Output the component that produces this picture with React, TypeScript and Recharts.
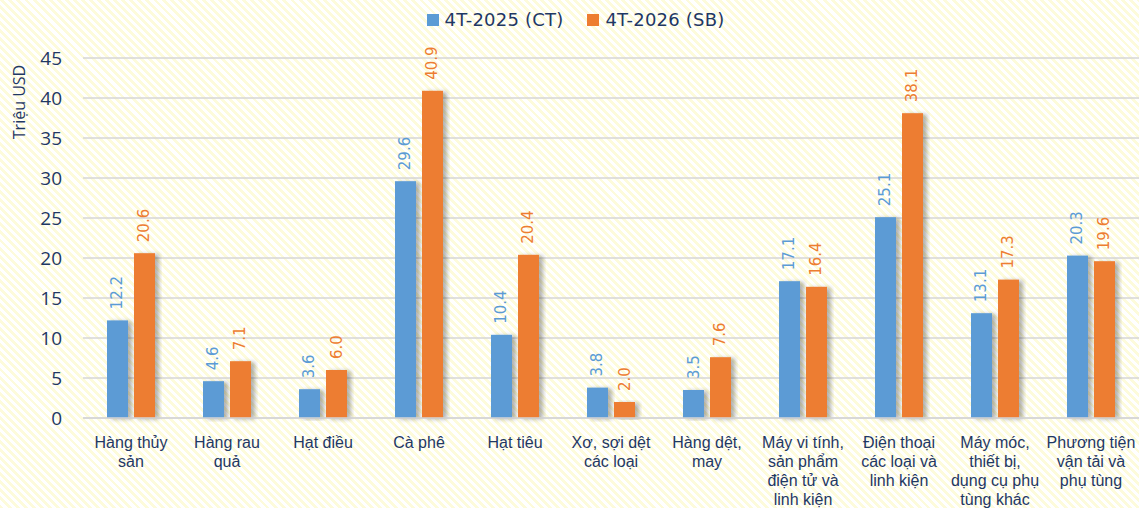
import React from 'react';
import { BarChart, Bar, XAxis, YAxis, CartesianGrid, LabelList } from 'recharts';

const categories = [
  'Hàng thủy sản',
  'Hàng rau quả',
  'Hạt điều',
  'Cà phê',
  'Hạt tiêu',
  'Xơ, sợi dệt các loại',
  'Hàng dệt, may',
  'Máy vi tính, sản phẩm điện tử và linh kiện',
  'Điện thoại các loại và linh kiện',
  'Máy móc, thiết bị, dụng cụ phụ tùng khác',
  'Phương tiện vận tải và phụ tùng',
];

// wrapped tick labels, as in the picture
const tickLines = [
  ['Hàng thủy', 'sản'],
  ['Hàng rau', 'quả'],
  ['Hạt điều'],
  ['Cà phê'],
  ['Hạt tiêu'],
  ['Xơ, sợi dệt', 'các loại'],
  ['Hàng dệt,', 'may'],
  ['Máy vi tính,', 'sản phẩm', 'điện tử và', 'linh kiện'],
  ['Điện thoại', 'các loại và', 'linh kiện'],
  ['Máy móc,', 'thiết bị,', 'dụng cụ phụ', 'tùng khác'],
  ['Phương tiện', 'vận tải và', 'phụ tùng'],
];

const ct2025 = [12.2, 4.6, 3.6, 29.6, 10.4, 3.8, 3.5, 17.1, 25.1, 13.1, 20.3];
const sb2026 = [20.6, 7.1, 6.0, 40.9, 20.4, 2.0, 7.6, 16.4, 38.1, 17.3, 19.6];

const yTicks = [0, 5, 10, 15, 20, 25, 30, 35, 40, 45];

const BLUE = '#5b9bd5';
const ORANGE = '#ed7d31';
const NAVY = '#1f3864';

const chartData = categories.map((name, i) => ({
  name,
  ct: ct2025[i],
  sb: sb2026[i],
}));

function CategoryTick(props: any) {
  const { x, y, payload } = props;
  const lines = tickLines[payload.index] || [payload.value];
  return (
    <g transform={`translate(${x},${y})`}>
      {lines.map((line: string, i: number) => (
        <text
          key={i}
          x={0}
          y={22 + i * 19}
          textAnchor="middle"
          fill={NAVY}
          fontSize={16}
          fontFamily="'Liberation Sans', Arial, sans-serif"
        >
          {line}
        </text>
      ))}
    </g>
  );
}

function makeValueLabel(color: string) {
  return function ValueLabel(props: any) {
    const { x, y, width, value } = props;
    const cx = x + width / 2;
    const top = y - 11;
    return (
      <text
        x={cx}
        y={top}
        transform={`rotate(-90 ${cx} ${top})`}
        textAnchor="start"
        dominantBaseline="central"
        fill={color}
        fontSize={15}
        fontFamily="'DejaVu Sans', Verdana, sans-serif"
      >
        {Number(value).toFixed(1)}
      </text>
    );
  };
}

function ShadowBar(props: any) {
  const { x, y, width, height, fill } = props;
  return <rect x={x} y={y} width={width} height={height} fill={fill} filter="url(#barShadow)" />;
}

const legendItems = [
  { label: '4T-2025 (CT)', color: BLUE },
  { label: '4T-2026 (SB)', color: ORANGE },
];

export default function App() {
  return (
    <div
      style={{
        position: 'absolute',
        left: 0,
        top: 0,
        width: 1139,
        height: 508,
        overflow: 'hidden',
        background: 'repeating-linear-gradient(45deg, #fdfbdb 0px, #fdfbdb 2.8px, #ffffff 2.8px, #ffffff 5.7px)',
      }}
    >
      <div
        style={{
          position: 'absolute',
          top: 9,
          left: 0,
          width: 1139,
          display: 'flex',
          justifyContent: 'center',
          gap: 24,
          paddingLeft: 12,
          boxSizing: 'border-box',
        }}
      >
        {legendItems.map((it) => (
          <div key={it.label} style={{ display: 'flex', alignItems: 'center', gap: 6 }}>
            <div style={{ width: 12, height: 12, background: it.color }} />
            <span
              style={{
                color: NAVY,
                fontSize: 18,
                letterSpacing: 0.2,
                fontFamily: "'DejaVu Sans', Verdana, sans-serif",
              }}
            >
              {it.label}
            </span>
          </div>
        ))}
      </div>
      <BarChart
        width={1139}
        height={508}
        data={chartData}
        margin={{ top: 58, right: 0, bottom: 0, left: 0 }}
        barCategoryGap="25%"
        barGap={6}
      >
        <defs>
          <filter id="barShadow" x="-20%" y="-10%" width="150%" height="120%">
            <feDropShadow dx="4" dy="1" stdDeviation="2" floodColor="#000" floodOpacity="0.3" />
          </filter>
        </defs>
        <CartesianGrid vertical={false} stroke="#d6d6d6" strokeWidth={1.5} />
        <XAxis
          dataKey="name"
          interval={0}
          tick={<CategoryTick />}
          tickLine={false}
          axisLine={{ stroke: '#d6d6d6', strokeWidth: 1.5 }}
          height={90}
        />
        <YAxis
          width={83}
          domain={[0, 45]}
          ticks={yTicks}
          tickLine={false}
          axisLine={false}
          tickSize={0}
          tickMargin={21}
          tick={{ fill: NAVY, fontSize: 19, fontFamily: "'Open Sans', sans-serif" }}
        />
        <Bar dataKey="ct" name="4T-2025 (CT)" fill={BLUE} shape={<ShadowBar />} isAnimationActive={false}>
          <LabelList dataKey="ct" content={makeValueLabel(BLUE)} />
        </Bar>
        <Bar dataKey="sb" name="4T-2026 (SB)" fill={ORANGE} shape={<ShadowBar />} isAnimationActive={false}>
          <LabelList dataKey="sb" content={makeValueLabel(ORANGE)} />
        </Bar>
        <text
          x={19}
          y={102}
          transform="rotate(-90 19 102)"
          textAnchor="middle"
          dominantBaseline="central"
          fill={NAVY}
          fontSize={16}
          fontFamily="'Open Sans', sans-serif"
        >
          Triệu USD
        </text>
      </BarChart>
    </div>
  );
}
